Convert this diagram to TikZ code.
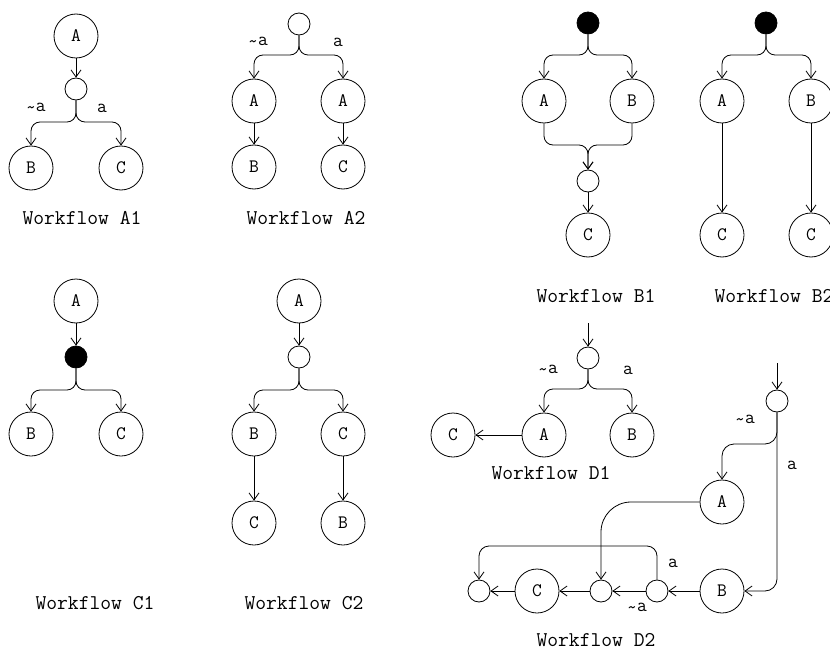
\documentclass[tikz,border=0pt]{standalone}
\usepackage{fontspec}
\usetikzlibrary{arrows.meta}
\newcommand{\tld}{\raisebox{-0.25ex}{\textasciitilde}}
\begin{document}
\begin{tikzpicture}[x=1pt,y=-1pt,
 big/.style={circle,draw,line width=0.8pt,minimum size=44pt,inner sep=0pt,font=\ttfamily\fontsize{19}{19}\selectfont},
 sm/.style={circle,draw,line width=0.8pt,minimum size=22pt,inner sep=0pt},
 blk/.style={sm,fill=black},
 arr/.style={-{Straight Barb[length=7pt,width=10pt]},line width=0.8pt},
 fork/.style={arr,rounded corners=9pt},
 lbl/.style={inner sep=0pt,font=\ttfamily\fontsize{19}{19}\selectfont},
 ttl/.style={inner sep=0pt,font=\ttfamily\fontsize{21}{21}\selectfont}]
\useasboundingbox (0,0) rectangle (830,650);

% ---------- A1
\node[big] (a1A) at (76,36) {A};
\node[sm] (a1s) at (76,89) {};
\node[big] (a1B) at (31,168) {B};
\node[big] (a1C) at (121,168) {C};
\coordinate (a1f) at (76,122);
\draw[arr] (a1A) -- (a1s);
\draw[fork] (a1s.south) -- (a1f) -| (a1B.north);
\draw[fork] (a1s.south) -- (a1f) -| (a1C.north);
\node[lbl] (a1l1) at (36,108) {\tld a};
\node[lbl] (a1l2) at (102,108) {a};
\node[ttl] (a1t) at (82,218) {Workflow A1};

% ---------- A2
\node[sm] (a2s) at (299,24) {};
\node[big] (a2A1) at (254,101) {A};
\node[big] (a2A2) at (343,101) {A};
\node[big] (a2B) at (254,167) {B};
\node[big] (a2C) at (343,167) {C};
\coordinate (a2f) at (299,55);
\draw[fork] (a2s.south) -- (a2f) -| (a2A1.north);
\draw[fork] (a2s.south) -- (a2f) -| (a2A2.north);
\draw[arr] (a2A1) -- (a2B);
\draw[arr] (a2A2) -- (a2C);
\node[lbl] (a2l1) at (258,42) {\tld a};
\node[lbl] (a2l2) at (338,42) {a};
\node[ttl] (a2t) at (306,218) {Workflow A2};

% ---------- B1
\node[blk] (b1s0) at (588,23) {};
\node[big] (b1A) at (544,101) {A};
\node[big] (b1B) at (632,101) {B};
\node[sm] (b1s) at (588,181) {};
\node[big] (b1C) at (588,235) {C};
\coordinate (b1f) at (588,55);
\coordinate (b1j) at (588,145);
\draw[fork] (b1s0.south) -- (b1f) -| (b1A.north);
\draw[fork] (b1s0.south) -- (b1f) -| (b1B.north);
\draw[fork] (b1A.south) |- (b1j) -- (b1s.north);
\draw[fork] (b1B.south) |- (b1j) -- (b1s.north);
\draw[arr] (b1s) -- (b1C);
\node[ttl] (b1t) at (596,296) {Workflow B1};

% ---------- B2
\node[blk] (b2s0) at (766,23) {};
\node[big] (b2A) at (722,101) {A};
\node[big] (b2B) at (811,101) {B};
\node[big] (b2C1) at (722,235) {C};
\node[big] (b2C2) at (811,235) {C};
\coordinate (b2f) at (766,55);
\draw[fork] (b2s0.south) -- (b2f) -| (b2A.north);
\draw[fork] (b2s0.south) -- (b2f) -| (b2B.north);
\draw[arr] (b2A) -- (b2C1);
\draw[arr] (b2B) -- (b2C2);
\node[ttl] (b2t) at (774,296) {Workflow B2};

% ---------- C1
\node[big] (c1A) at (76,301) {A};
\node[blk] (c1s) at (76,357) {};
\node[big] (c1B) at (31,434) {B};
\node[big] (c1C) at (121,434) {C};
\coordinate (c1f) at (76,390);
\draw[arr] (c1A) -- (c1s);
\draw[fork] (c1s.south) -- (c1f) -| (c1B.north);
\draw[fork] (c1s.south) -- (c1f) -| (c1C.north);
\node[ttl] (c1t) at (95,603) {Workflow C1};

% ---------- C2
\node[big] (c2A) at (299,301) {A};
\node[sm] (c2s) at (299,357) {};
\node[big] (c2B) at (254,434) {B};
\node[big] (c2C) at (343,434) {C};
\node[big] (c2C2) at (254,523) {C};
\node[big] (c2B2) at (343,523) {B};
\coordinate (c2f) at (299,390);
\draw[arr] (c2A) -- (c2s);
\draw[fork] (c2s.south) -- (c2f) -| (c2B.north);
\draw[fork] (c2s.south) -- (c2f) -| (c2C.north);
\draw[arr] (c2B) -- (c2C2);
\draw[arr] (c2C) -- (c2B2);
\node[ttl] (c2t) at (304,603) {Workflow C2};

% ---------- D1
\coordinate (d1in) at (588,323);
\node[sm] (d1s) at (588,358) {};
\node[big] (d1A) at (544,435) {A};
\node[big] (d1B) at (632,435) {B};
\node[big] (d1C) at (453,435) {C};
\coordinate (d1f) at (588,389);
\draw[arr] (d1in) -- (d1s);
\draw[fork] (d1s.south) -- (d1f) -| (d1A.north);
\draw[fork] (d1s.south) -- (d1f) -| (d1B.north);
\draw[arr] (d1A) -- (d1C);
\node[lbl] (d1l1) at (548,370) {\tld a};
\node[lbl] (d1l2) at (628,370) {a};
\node[ttl] (d1t) at (551,473) {Workflow D1};

% ---------- D2
\coordinate (d2in) at (777,363);
\node[sm] (d2s0) at (777,401) {};
\node[big] (d2A) at (722,502) {A};
\node[big] (d2B) at (722,591) {B};
\node[sm] (d2s3) at (657,591) {};
\node[sm] (d2s2) at (601,591) {};
\node[big] (d2C) at (537,591) {C};
\node[sm] (d2s1) at (479,591) {};
\coordinate (d2f) at (777,444);
\coordinate (d2j) at (657,546);
\draw[arr] (d2in) -- (d2s0);
\draw[arr,rounded corners=12pt] (d2s0.south) -- (d2f) -| (d2A.north);
\draw[arr,rounded corners=12pt] (d2s0.south) |- (d2B.east);
\draw[arr,rounded corners=30pt] (d2A.west) -| (d2s2.north);
\draw[arr,rounded corners=10pt] (d2s3.north) -- (d2j) -| (d2s1.north);
\draw[arr] (d2B) -- (d2s3);
\draw[arr] (d2s3) -- (d2s2);
\draw[arr] (d2s2) -- (d2C);
\draw[arr] (d2C) -- (d2s1);
\node[lbl] (d2l1) at (745,420) {\tld a};
\node[lbl] (d2l2) at (792,465) {a};
\node[lbl] (d2l3) at (673,563) {a};
\node[lbl] (d2l4) at (637,608) {\tld a};
\node[ttl] (d2t) at (596,640) {Workflow D2};
\end{tikzpicture}
\end{document}
